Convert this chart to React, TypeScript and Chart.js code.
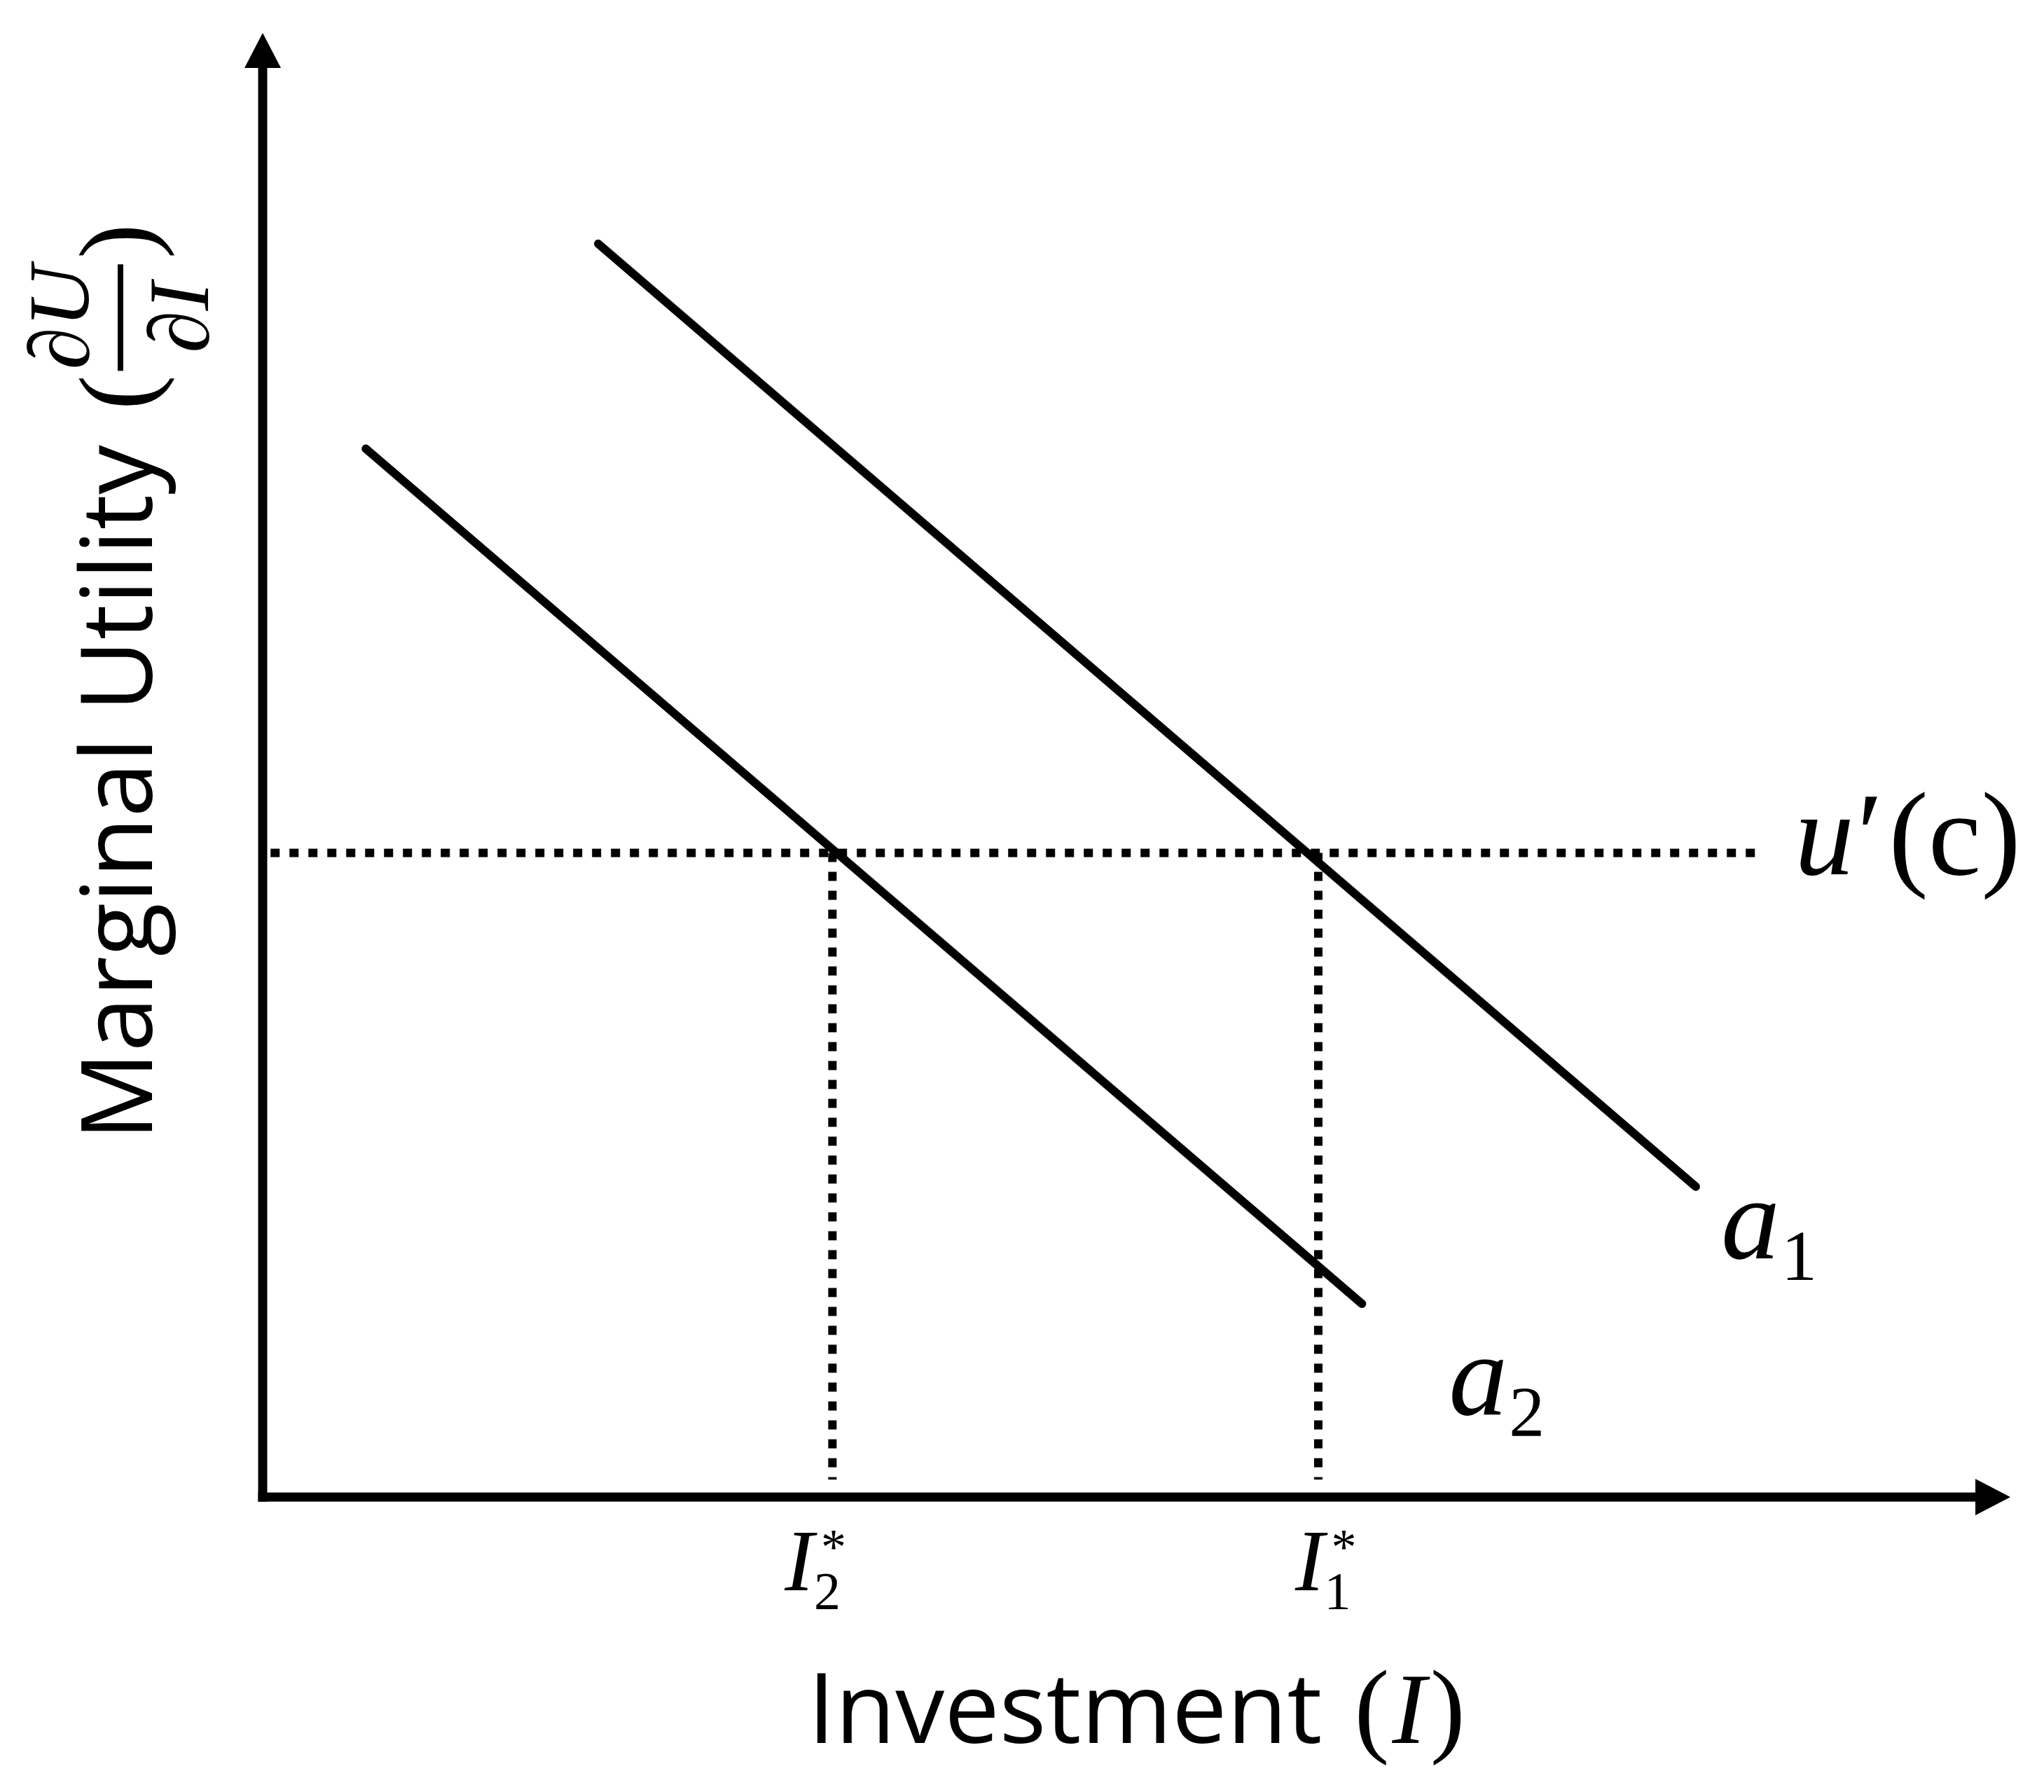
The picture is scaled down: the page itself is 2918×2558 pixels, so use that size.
import React, { useEffect, useRef } from "react";
import { Chart, registerables } from "chart.js";

Chart.register(...registerables);

const W = 2918;
const H = 2558;

// ---------- data (arbitrary economic units) ----------
const xRange = [0, 100];
const yRange = [0, 100];
// demand-like marginal-utility schedules (start, end)
const a1X = [19.2, 82.0];
const a1Y = [85.6, 21.2];
const a2X = [5.9, 62.9];
const a2Y = [71.6, 13.2];
const curveLabels = ["a", "a"];
const curveSubs = ["1", "2"];
// marginal utility of consumption u'(c)
const uPrimeLevel = 44;
const uPrimeSpan = [0.45, 85.45];
// optimal investment levels
const optimumX = [32.6, 60.4];
const optimumSubs = ["2", "1"];
const dropLineBottom = 1.2;
// titles
const xTitleWord = "Investment";
const xTitleSymbol = "I";
const yTitleWord = "Marginal Utility";
const yFracTop = "∂U";
const yFracBottom = "∂I";

// ---------- styles ----------
const SERIF = '"Liberation Serif", "DejaVu Serif", serif';
const SANS = '"Open Sans", "DejaVu Sans", sans-serif';
const LINE_W = 12;
const AXIS_W = 13;
const DOT = [13, 14];
const curveLabelOffsets = [
  { dx: 36, dy: 102 },
  { dx: 124, dy: 158 },
];
const optimumLabelDx = [-68, -33];

type Run = { t: string; font: string; dy?: number; dx?: number };

function drawRuns(ctx: CanvasRenderingContext2D, x: number, y: number, runs: Run[]) {
  let cx = x;
  for (const r of runs) {
    ctx.font = r.font;
    cx += r.dx || 0;
    ctx.fillText(r.t, cx, y + (r.dy || 0));
    cx += ctx.measureText(r.t).width;
  }
  return cx;
}
function runsWidth(ctx: CanvasRenderingContext2D, runs: Run[]) {
  let w = 0;
  for (const r of runs) {
    ctx.font = r.font;
    w += ctx.measureText(r.t).width + (r.dx || 0);
  }
  return w;
}

const annotationPlugin = {
  id: "econAnnotations",
  afterDraw(chart: any) {
    const ctx: CanvasRenderingContext2D = chart.ctx;
    const xs = chart.scales.x;
    const ys = chart.scales.y;
    const x0 = xs.getPixelForValue(xRange[0]);
    const y0 = ys.getPixelForValue(yRange[0]);
    const xEnd = xs.getPixelForValue(xRange[1]);
    const yEnd = ys.getPixelForValue(yRange[1]);
    ctx.save();
    ctx.fillStyle = "#000";
    ctx.strokeStyle = "#000";
    ctx.lineWidth = AXIS_W;
    ctx.lineCap = "butt";
    // y axis + arrow
    ctx.beginPath();
    ctx.moveTo(x0, y0 + AXIS_W / 2);
    ctx.lineTo(x0, yEnd + 45);
    ctx.stroke();
    ctx.beginPath();
    ctx.moveTo(x0, yEnd);
    ctx.lineTo(x0 - 26, yEnd + 50);
    ctx.lineTo(x0 + 26, yEnd + 50);
    ctx.closePath();
    ctx.fill();
    // x axis + arrow
    ctx.beginPath();
    ctx.moveTo(x0 - AXIS_W / 2, y0);
    ctx.lineTo(xEnd - 45, y0);
    ctx.stroke();
    ctx.beginPath();
    ctx.moveTo(xEnd, y0);
    ctx.lineTo(xEnd - 50, y0 - 26);
    ctx.lineTo(xEnd - 50, y0 + 26);
    ctx.closePath();
    ctx.fill();

    ctx.textBaseline = "alphabetic";
    ctx.textAlign = "left";

    // u'(c) label
    const ux = xs.getPixelForValue(uPrimeSpan[1]) + 55;
    const uy = ys.getPixelForValue(uPrimeLevel) + 31;
    drawRuns(ctx, ux, uy, [
      { t: "u", font: `italic 170px ${SERIF}` },
      { t: "′", font: `170px ${SERIF}`, dx: 4 },
      { t: "(", font: `170px ${SERIF}`, dx: 8 },
      { t: "c", font: `170px ${SERIF}` },
      { t: ")", font: `170px ${SERIF}` },
    ]);

    // curve labels a1, a2
    const ends = [
      [a1X[1], a1Y[1]],
      [a2X[1], a2Y[1]],
    ];
    ends.forEach((e, i) => {
      const px = xs.getPixelForValue(e[0]) + curveLabelOffsets[i].dx;
      const py = ys.getPixelForValue(e[1]) + curveLabelOffsets[i].dy;
      drawRuns(ctx, px, py, [
        { t: curveLabels[i], font: `italic 168px ${SERIF}` },
        { t: curveSubs[i], font: `102px ${SERIF}`, dy: 31, dx: 2 },
      ]);
    });

    // optimum labels I*_2, I*_1
    optimumX.forEach((v, i) => {
      const px = xs.getPixelForValue(v) + optimumLabelDx[i];
      const py = y0 + 133;
      ctx.font = `italic 125px ${SERIF}`;
      ctx.fillText(xTitleSymbol, px, py);
      const iw = ctx.measureText(xTitleSymbol).width;
      ctx.font = `76px ${SERIF}`;
      ctx.fillText(optimumSubs[i], px + iw, py + 27);
      ctx.font = `72px ${SERIF}`;
      ctx.fillText("*", px + iw + 10, py - 38);
    });

    // x title
    const xRuns: Run[] = [
      { t: xTitleWord, font: `140px ${SANS}` },
      { t: "(", font: `150px ${SERIF}`, dx: 46 },
      { t: xTitleSymbol, font: `italic 145px ${SERIF}`, dx: 4 },
      { t: ")", font: `150px ${SERIF}`, dx: 6 },
    ];
    const xw = runsWidth(ctx, xRuns);
    const xc = (x0 + xEnd) / 2;
    drawRuns(ctx, xc - xw / 2, 2488, xRuns);

    // y title (rotated)
    ctx.save();
    ctx.translate(217, 1628);
    ctx.rotate(-Math.PI / 2);
    ctx.font = `141px ${SANS}`;
    ctx.fillText(yTitleWord, 0, 0);
    const ww = ctx.measureText(yTitleWord).width;
    const pStart = ww + 50;
    ctx.font = `150px ${SERIF}`;
    ctx.fillText("(", pStart, 0);
    const pw = ctx.measureText("(").width;
    const fracL = pStart + pw + 6;
    const fracLen = 152;
    const fracC = fracL + fracLen / 2;
    ctx.fillRect(fracL, -49, fracLen, 8);
    ctx.font = `italic 122px ${SERIF}`;
    ctx.textAlign = "center";
    ctx.fillText(yFracTop, fracC, -91);
    ctx.fillText(yFracBottom, fracC, 80);
    ctx.textAlign = "left";
    ctx.font = `150px ${SERIF}`;
    ctx.fillText(")", fracL + fracLen + 8, 0);
    ctx.restore();

    ctx.restore();
  },
};

export default function App() {
  const ref = useRef<HTMLCanvasElement | null>(null);
  useEffect(() => {
    const canvas = ref.current;
    if (!canvas) return;
    const lineDs = (xs: number[], ys: number[], dashed: boolean) => ({
      data: xs.map((x, i) => ({ x, y: ys[i] })),
      showLine: true,
      borderColor: "#000",
      backgroundColor: "#000",
      borderWidth: LINE_W,
      borderCapStyle: dashed ? "butt" : "round",
      borderDash: dashed ? DOT : [],
      pointRadius: 0,
      pointHoverRadius: 0,
      tension: 0,
      fill: false,
      clip: false,
    });
    const chart = new Chart(canvas, {
      type: "scatter",
      data: {
        datasets: [
          lineDs(a1X, a1Y, false),
          lineDs(a2X, a2Y, false),
          lineDs(uPrimeSpan, [uPrimeLevel, uPrimeLevel], true),
          lineDs([optimumX[0], optimumX[0]], [uPrimeLevel, dropLineBottom], true),
          lineDs([optimumX[1], optimumX[1]], [uPrimeLevel, dropLineBottom], true),
        ] as any,
      },
      options: {
        responsive: false,
        animation: false,
        devicePixelRatio: 1,
        events: [],
        layout: { padding: { left: 375, top: 47, right: W - 2870, bottom: H - 2137 } },
        plugins: {
          legend: { display: false },
          tooltip: { enabled: false },
          title: { display: false },
        },
        scales: {
          x: { type: "linear", min: xRange[0], max: xRange[1], display: false },
          y: { type: "linear", min: yRange[0], max: yRange[1], display: false },
        },
      } as any,
      plugins: [annotationPlugin],
    });
    let alive = true;
    if ((document as any).fonts) {
      Promise.all([
        document.fonts.load(`140px "Open Sans"`),
        document.fonts.load(`italic 140px "Liberation Serif"`),
        document.fonts.load(`140px "Liberation Serif"`),
      ])
        .then(() => {
          if (alive) chart.update();
        })
        .catch(() => {});
    }
    return () => {
      alive = false;
      chart.destroy();
    };
  }, []);
  return (
    <div style={{ position: "fixed", left: 0, top: 0, width: W, height: H, background: "#fff" }}>
      <canvas ref={ref} width={W} height={H} style={{ width: W, height: H, display: "block" }} />
    </div>
  );
}
